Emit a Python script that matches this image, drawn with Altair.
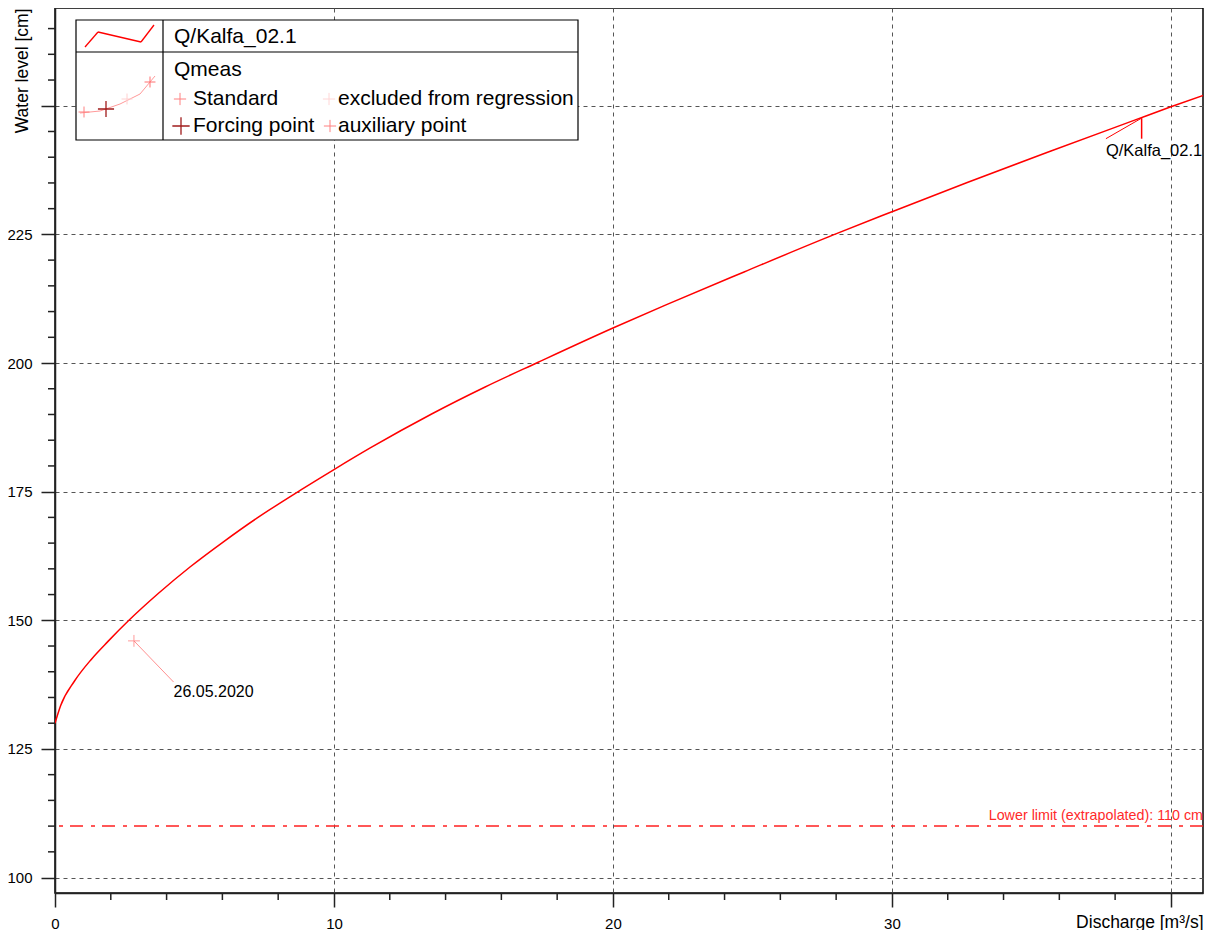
import altair as alt
import pandas as pd

FONT = "Liberation Sans"

# Rating curve Q/Kalfa_02.1 (discharge m3/s, water level cm)
curve_q = [0, 0.2, 0.7, 1.3, 1.9, 2.65, 3.7, 4.85, 6.05, 7.25, 8.8, 10, 11.3, 13.5,
           15.4, 17.3, 20, 21.9, 24.7, 27.9, 30, 32.7, 35.7, 38.7, 40, 41.2]
curve_h = [130, 133.4, 138.2, 142.4, 145.9, 150.0, 155.2, 160.4, 165.3, 169.9, 175.3, 179.3,
           183.5, 190.1, 195.3, 200.1, 206.8, 211.3, 217.7, 224.9, 229.4, 235.1, 241.2, 247.2,
           249.8, 252.1]

# Measurement
meas_q = [2.83]
meas_h = [146.0]
meas_label = ["26.05.2020"]
meas_label_q = [4.25]
meas_label_h = [138.0]

# Curve annotation
curve_name = "Q/Kalfa_02.1"
ann_q = [38.95]
ann_h = [247.6]
ann_tail_q = [37.67]
ann_tail_h = [243.6]
ann_text_h = [241.3]

lower_limit = [110]
lower_text = "Lower limit (extrapolated): 110 cm"

x_major = [0, 10, 20, 30, 40]
x_minor = [v for v in range(2, 42, 2) if v % 10 != 0]
y_major = [100, 125, 150, 175, 200, 225, 250]
y_minor = [v for v in range(105, 270, 5) if v % 25 != 0]

W, H = 1148, 885
xs = alt.Scale(domain=[0, 41.15], nice=False, zero=False)
ys = alt.Scale(domain=[97, 269], nice=False, zero=False)

curve_df = pd.DataFrame({"Q": curve_q, "h": curve_h})
meas_df = pd.DataFrame({"Q": meas_q, "h": meas_h, "lq": meas_label_q, "lh": meas_label_h, "t": meas_label})
ann_df = pd.DataFrame({"Q": ann_q, "h": ann_h, "tq": ann_tail_q, "th": ann_tail_h, "txh": ann_text_h})
lim_df = pd.DataFrame({"h": lower_limit})
xmin_df = pd.DataFrame({"v": x_minor})
ymin_df = pd.DataFrame({"v": y_minor})
one = pd.DataFrame({"k": [0]})

xaxis = alt.Axis(
    values=x_major, title="Discharge [m³/s]", tickSize=14, grid=True,
    labelExpr="datum.value < 40 ? datum.label : ''",
    labelFlush=False, labelOverlap=False, labelPadding=9, labelFontSize=15,
    titleAnchor="end", titleAlign="right", titleBaseline="middle", titleX=W, titleY=29,
    titleFontSize=17.5, titleFontWeight="normal",
)
yaxis = alt.Axis(
    values=y_major, title="Water level [cm]", tickSize=14, grid=True,
    labelExpr="datum.value < 250 ? datum.label : ''",
    labelOverlap=False, labelPadding=9, labelFontSize=15,
    titleAngle=270, titleAlign="right", titleBaseline="middle", titleX=-33, titleY=0,
    titleFontSize=17.5, titleFontWeight="normal",
)

curve = alt.Chart(curve_df).mark_line(color="#ff0000", strokeWidth=1.5, interpolate="monotone", clip=True).encode(
    x=alt.X("Q:Q", scale=xs, axis=xaxis),
    y=alt.Y("h:Q", scale=ys, axis=yaxis),
)

# minor ticks (through the scales)
x_minor_ticks = alt.Chart(xmin_df).mark_rule(color="#222", strokeWidth=1.5).encode(
    x=alt.X("v:Q", scale=xs), y=alt.value(H), y2=alt.value(H + 7))
y_minor_ticks = alt.Chart(ymin_df).mark_rule(color="#222", strokeWidth=1.5).encode(
    y=alt.Y("v:Q", scale=ys), x=alt.value(0), x2=alt.value(-7))

PLUS = "M -1 0 L 1 0 M 0 -1 L 0 1"

meas_pt = alt.Chart(meas_df).mark_point(shape=PLUS, filled=False, color="#ff7070", size=140, strokeWidth=1).encode(
    x=alt.X("Q:Q", scale=xs), y=alt.Y("h:Q", scale=ys))
meas_lead = alt.Chart(meas_df).mark_rule(color="#ff9090", strokeWidth=1).encode(
    x=alt.X("Q:Q", scale=xs), y=alt.Y("h:Q", scale=ys), x2="lq:Q", y2="lh:Q")
meas_txt = alt.Chart(meas_df).mark_text(align="left", baseline="middle", font=FONT, fontSize=16, color="#000", dy=10).encode(
    x=alt.X("lq:Q", scale=xs), y=alt.Y("lh:Q", scale=ys), text="t:N")

ann_v = alt.Chart(ann_df).mark_rule(color="#ff0000", strokeWidth=1.5).encode(
    x=alt.X("Q:Q", scale=xs), y=alt.Y("h:Q", scale=ys), y2="th:Q")
ann_d = alt.Chart(ann_df).mark_rule(color="#ff0000", strokeWidth=1).encode(
    x=alt.X("Q:Q", scale=xs), y=alt.Y("h:Q", scale=ys), x2="tq:Q", y2="th:Q")
ann_t = alt.Chart(ann_df).mark_text(text=curve_name, align="left", baseline="middle", font=FONT, fontSize=16.5, color="#000").encode(
    x=alt.X("tq:Q", scale=xs), y=alt.Y("txh:Q", scale=ys))

lim_rule = alt.Chart(lim_df).mark_rule(color="#ff2020", strokeWidth=1.5, strokeDash=[13, 7, 4, 8]).encode(
    y=alt.Y("h:Q", scale=ys))
lim_txt = alt.Chart(lim_df).mark_text(text=lower_text, align="right", baseline="middle", font=FONT, fontSize=14.3,
                                      color="#ff2a2a", dy=-10).encode(
    y=alt.Y("h:Q", scale=ys), x=alt.value(W))

# ---- custom legend (decoration, pixel positions) ----
def seg(x1, y1, x2, y2, color="#000", w=1.0):
    return alt.Chart(one).mark_rule(color=color, strokeWidth=w).encode(
        x=alt.value(x1), y=alt.value(y1), x2=alt.value(x2), y2=alt.value(y2))

def label(s, x, y, size=21):
    return alt.Chart(one).mark_text(text=s, align="left", baseline="middle", font=FONT, fontSize=size, color="#000").encode(
        x=alt.value(x), y=alt.value(y))

def plus(x, y, color, size=140, w=1.0):
    return alt.Chart(one).mark_point(shape=PLUS, filled=False, color=color, size=size, strokeWidth=w, opacity=1).encode(
        x=alt.value(x), y=alt.value(y))

box = alt.Chart(one).mark_rect(fill="white", stroke="#000", strokeWidth=1.2).encode(
    x=alt.value(21), x2=alt.value(523), y=alt.value(12), y2=alt.value(132))

legend = [
    box,
    seg(108, 12, 108, 132, w=1.2),
    seg(21, 44, 523, 44, w=1.2),
    # row 1 icon
    seg(30, 39, 43, 24, "#ff0000", 1.3), seg(43, 24, 86, 34, "#ff0000", 1.3), seg(86, 34, 99, 17, "#ff0000", 1.3),
    label(curve_name, 119, 29),
    # row 2 icon
    seg(25, 105, 45, 103, "#ff9a9a", 1), seg(45, 103, 65, 96, "#ff9a9a", 1),
    seg(65, 96, 85, 86, "#ff9a9a", 1), seg(85, 86, 100, 68, "#ff9a9a", 1),
    plus(29, 104, "#ff8080", 120), plus(51, 101, "#a01c1c", 260, 1.3), plus(72, 91, "#ffd0d0", 120), plus(95, 74, "#ff7070", 120),
    label("Qmeas", 119, 62),
    plus(125, 91, "#ff8080", 150), label("Standard", 138, 91),
    plus(274, 91, "#ffd6d6", 150), label("excluded from regression", 283, 91),
    plus(126, 118, "#a01c1c", 300, 1.3), label("Forcing point", 138, 118),
    plus(275, 118, "#ff8080", 150), label("auxiliary point", 283, 118),
]

chart = alt.layer(
    curve, x_minor_ticks, y_minor_ticks, meas_lead, meas_pt, meas_txt, ann_d, ann_v, ann_t,
    lim_rule, lim_txt, *legend
).properties(
    width=W, height=H,
    padding={"left": 47, "top": 0, "right": 4, "bottom": 37},
    autosize=alt.AutoSizeParams(type="none"),
).configure_axis(
    labelFont=FONT, titleFont=FONT, labelColor="#000", titleColor="#000",
    domainColor="#222", domainWidth=1.5, tickColor="#222", tickWidth=1.5,
    gridColor="#555", gridDash=[4, 4], gridWidth=1,
).configure_view(stroke="#000", strokeWidth=1.5).configure_text(font=FONT)

chart.save("out.html", embed_options={"renderer": "svg", "actions": False})
